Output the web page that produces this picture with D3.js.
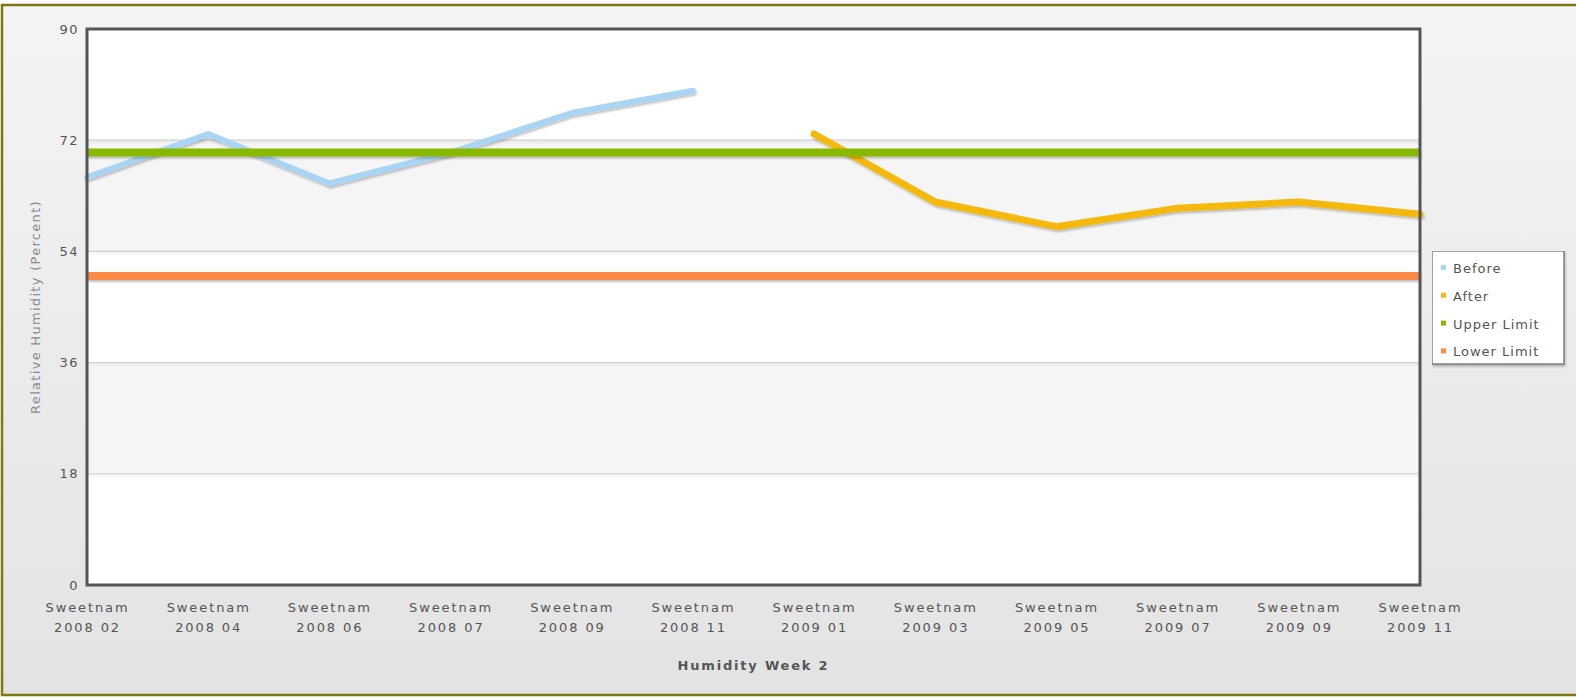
<!DOCTYPE html>
<html>
<head>
<meta charset="utf-8">
<script src="https://cdn.jsdelivr.net/npm/d3@7"></script>
<style>
  body { margin: 0; background: #fff; }
  svg text { font-family: "DejaVu Sans", Verdana, sans-serif; }
</style>
</head>
<body>
<svg id="chart"></svg>
<script>
var width = 1576, height = 699;

// data
var categories = ["Sweetnam 2008 02", "Sweetnam 2008 04", "Sweetnam 2008 06", "Sweetnam 2008 07",
  "Sweetnam 2008 09", "Sweetnam 2008 11", "Sweetnam 2009 01", "Sweetnam 2009 03",
  "Sweetnam 2009 05", "Sweetnam 2009 07", "Sweetnam 2009 09", "Sweetnam 2009 11"];
var before = [66, 73, 65, 70, 76.4, 80, null, null, null, null, null, null];
var after = [null, null, null, null, null, null, 73, 62, 58, 61, 62, 60];
var upperLimit = [70, 70, 70, 70, 70, 70, 70, 70, 70, 70, 70, 70];
var lowerLimit = [50, 50, 50, 50, 50, 50, 50, 50, 50, 50, 50, 50];
var yTicks = [0, 18, 36, 54, 72, 90];

var seriesNames = ["Before", "After", "Upper Limit", "Lower Limit"];
var seriesColors = ["#a9d5f5", "#f5b90f", "#88b900", "#ff8a45"];
var seriesWidths = [6, 7, 8, 8];
var seriesData = [before, after, upperLimit, lowerLimit];

var margin = {left: 87, top: 29, right: 1420, bottom: 585};

var svg = d3.select("#chart").attr("width", width).attr("height", height);
var defs = svg.append("defs");

var bgGrad = defs.append("linearGradient").attr("id", "bgGrad")
  .attr("x1", 0).attr("y1", 0).attr("x2", 0).attr("y2", 1);
bgGrad.append("stop").attr("offset", "0%").attr("stop-color", "#f4f4f4");
bgGrad.append("stop").attr("offset", "100%").attr("stop-color", "#e3e3e3");

// user space region so flat horizontal lines still get the shadow
function makeShadow(id, opacity) {
  var f = defs.append("filter").attr("id", id)
    .attr("filterUnits", "userSpaceOnUse")
    .attr("x", 0).attr("y", 0).attr("width", width).attr("height", height);
  f.append("feDropShadow").attr("dx", 1).attr("dy", 2).attr("stdDeviation", 1.2)
    .attr("flood-color", "#000").attr("flood-opacity", opacity);
}
makeShadow("shadow", 0.25);
makeShadow("gridShadow", 0.08);

// outer frame
svg.append("rect").attr("x", 2).attr("y", 5).attr("width", width).attr("height", 690)
  .attr("fill", "url(#bgGrad)");
svg.append("path")
  .attr("d", "M" + width + ",5 H2 V695 H" + width)
  .attr("fill", "none").attr("stroke", "#7b7a12").attr("stroke-width", 2.5);

var x = d3.scalePoint().domain(categories).range([margin.left, margin.right]).padding(0);
var y = d3.scaleLinear().domain([0, 90]).range([margin.bottom, margin.top]);

// plot background with alternating bands
var plot = svg.append("g");
plot.append("rect").attr("x", margin.left).attr("y", margin.top)
  .attr("width", margin.right - margin.left).attr("height", margin.bottom - margin.top)
  .attr("fill", "#fff");
plot.selectAll("rect.band")
  .data(d3.pairs(yTicks).filter(function(d, i) { return i % 2 === 1; }))
  .enter().append("rect").attr("class", "band")
  .attr("x", margin.left)
  .attr("y", function(d) { return y(d[1]); })
  .attr("width", margin.right - margin.left)
  .attr("height", function(d) { return y(d[0]) - y(d[1]); })
  .attr("fill", "#f5f5f5");

// gridlines
plot.selectAll("line.grid")
  .data(yTicks.slice(1, -1))
  .enter().append("line").attr("class", "grid")
  .attr("x1", margin.left).attr("x2", margin.right)
  .attr("y1", function(d) { return y(d); }).attr("y2", function(d) { return y(d); })
  .attr("stroke", "#cfcfcf").attr("stroke-width", 1.3)
  .attr("filter", "url(#gridShadow)");

// series lines
var line = d3.line()
  .defined(function(d) { return d != null; })
  .x(function(d, i) { return x(categories[i]); })
  .y(function(d) { return y(d); });

[0, 1, 2, 3].forEach(function(k) {
  plot.append("path")
    .datum(seriesData[k])
    .attr("d", line)
    .attr("fill", "none")
    .attr("stroke", seriesColors[k])
    .attr("stroke-width", seriesWidths[k])
    .attr("stroke-linecap", k < 2 ? "round" : "butt")
    .attr("stroke-linejoin", "round")
    .attr("filter", "url(#shadow)");
});

// plot border
svg.append("rect").attr("x", margin.left).attr("y", margin.top)
  .attr("width", margin.right - margin.left).attr("height", margin.bottom - margin.top)
  .attr("fill", "none").attr("stroke", "#555").attr("stroke-width", 3);

// y axis labels
var yAxis = d3.axisLeft(y).tickValues(yTicks).tickSize(0).tickPadding(8);
var yg = svg.append("g").attr("transform", "translate(" + margin.left + ",0)").call(yAxis);
yg.select(".domain").remove();
yg.selectAll("text").attr("fill", "#555").style("font-size", "13px").style("letter-spacing", "1.5px");

// x axis labels, two lines
var xAxis = d3.axisBottom(x).tickSize(0).tickFormat("");
var xg = svg.append("g").attr("transform", "translate(0," + margin.bottom + ")").call(xAxis);
xg.select(".domain").remove();
xg.selectAll(".tick").each(function(d) {
  var parts = [d.slice(0, 8), d.slice(9)];
  var t = d3.select(this).append("text")
    .attr("text-anchor", "middle").attr("fill", "#555")
    .style("font-size", "13px").style("letter-spacing", "1.9px");
  parts.forEach(function(p, i) {
    t.append("tspan").attr("x", 0).attr("y", 27 + i * 20).text(p);
  });
});

// axis titles
svg.append("text")
  .attr("x", (margin.left + margin.right) / 2).attr("y", 670)
  .attr("text-anchor", "middle").attr("fill", "#555")
  .style("font-size", "13px").style("font-weight", "bold").style("letter-spacing", "1.8px")
  .text("Humidity Week 2");

svg.append("text")
  .attr("transform", "translate(40," + ((margin.top + margin.bottom) / 2) + ") rotate(-90)")
  .attr("text-anchor", "middle").attr("fill", "#8a8a8a")
  .style("font-size", "13px").style("letter-spacing", "1.3px")
  .text("Relative Humidity (Percent)");

// legend
var legend = svg.append("g").attr("transform", "translate(1432,251)");
legend.append("rect").attr("width", 132).attr("height", 113)
  .attr("fill", "#fff").attr("stroke", "#666").attr("stroke-width", 1.2)
  .attr("filter", "url(#shadow)");
var items = legend.selectAll("g.item").data(seriesNames)
  .enter().append("g").attr("class", "item")
  .attr("transform", function(d, i) { return "translate(0," + (17 + i * 27.8) + ")"; });
items.append("rect").attr("x", 9).attr("y", -3).attr("width", 5).attr("height", 5)
  .attr("fill", function(d, i) { return seriesColors[i]; });
items.append("text").attr("x", 21).attr("y", 5)
  .attr("fill", "#555").style("font-size", "13px").style("letter-spacing", "1px")
  .text(function(d) { return d; });
</script>
</body>
</html>
